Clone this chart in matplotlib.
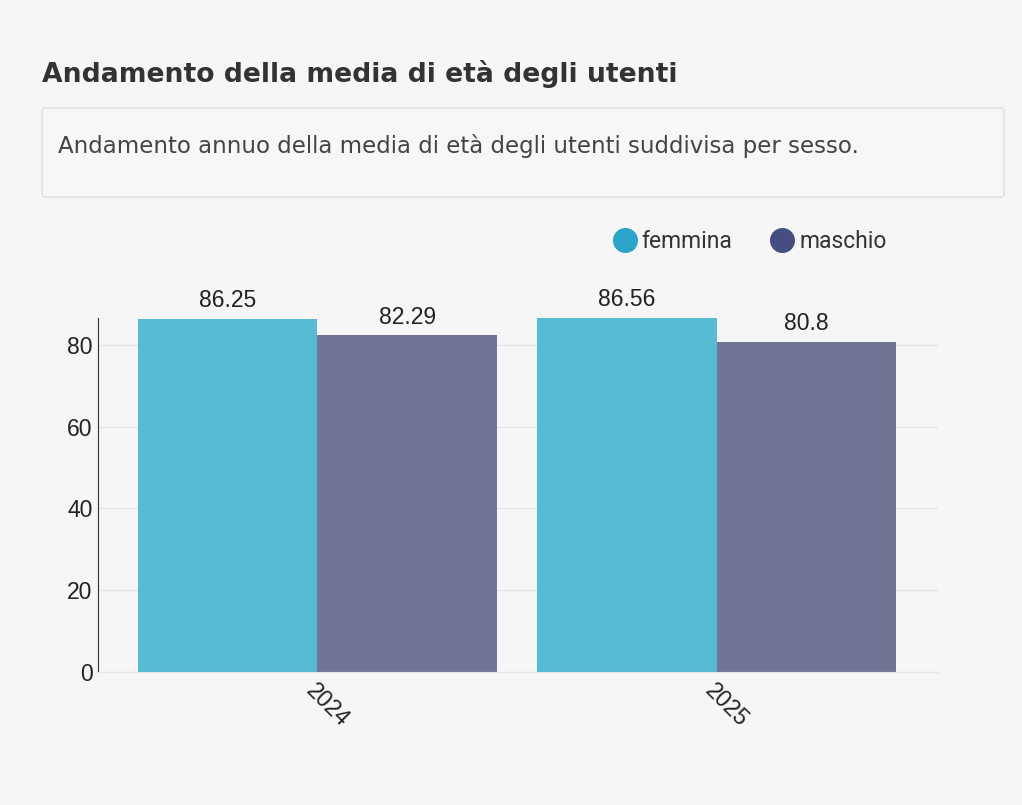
import numpy as np
import matplotlib.pyplot as plt
from matplotlib.patches import FancyBboxPatch

# dati
anni = ["2024", "2025"]
femmina = [86.25, 86.56]
maschio = [82.29, 80.8]
serie = ["femmina", "maschio"]

plt.rcParams['font.family'] = ['Liberation Sans', 'DejaVu Sans']

W, H = 1022, 805
fig = plt.figure(figsize=(W / 100, H / 100), dpi=100)
fig.patch.set_facecolor('#f6f6f6')


def adatta(txt, larghezza):
    """scala la dimensione del font per avere la larghezza voluta (px)"""
    r = fig.canvas.get_renderer()
    bb = txt.get_window_extent(r)
    txt.set_fontsize(txt.get_fontsize() * larghezza / bb.width)


# titolo e riquadro descrizione
tit = fig.text(42 / W, 1 - 82 / H, "Andamento della media di età degli utenti",
               fontsize=16, fontweight='bold', color='#333333', va='baseline',
               family=['DejaVu Sans'])
box = FancyBboxPatch((42 / W, 1 - 197 / H), 962 / W, 89 / H,
                     boxstyle="round,pad=0,rounding_size=0.004",
                     transform=fig.transFigure, facecolor='#f7f7f7',
                     edgecolor='#e2e2e2', linewidth=1.2)
fig.add_artist(box)
sub = fig.text(58 / W, 1 - 153 / H,
               "Andamento annuo della media di età degli utenti suddivisa per sesso.",
               fontsize=13, color='#444444', va='baseline', family=['DejaVu Sans'])
adatta(tit, 636)
adatta(sub, 800)

ax = fig.add_axes([98 / W, 1 - 672 / H, 840 / W, (672 - 318) / H])
ax.set_facecolor('#f6f6f6')

x = np.arange(len(anni))
w = 0.45
b1 = ax.bar(x - w / 2, femmina, w, color='#55bcd4', label=serie[0], zorder=2)
b2 = ax.bar(x + w / 2, maschio, w, color='#717595', label=serie[1], zorder=2)
for bars in (b1, b2):
    ax.bar_label(bars, labels=[f"{v:g}" for v in bars.datavalues],
                 padding=5, fontsize=16.5, color='#222222')

ax.set_xlim(-0.55, 1.555)
ax.set_ylim(0, max(femmina))
ax.set_yticks([0, 20, 40, 60, 80])
ax.yaxis.grid(True, color='#e6e6e6', linewidth=1, zorder=0)
ax.set_axisbelow(True)
for s in ['top', 'right']:
    ax.spines[s].set_visible(False)
ax.spines['left'].set_color('#333333')
ax.spines['bottom'].set_color('#e6e6e6')
ax.tick_params(axis='y', length=0, labelsize=16.5, colors='#222222', pad=4)
ax.tick_params(axis='x', length=0, labelsize=16.5, colors='#222222', pad=5)
ax.set_xticks(x)
ax.set_xticklabels(anni, rotation=-45, ha='left', va='top',
                   rotation_mode='anchor')

# legenda
leg_cols = ['#2aa4c8', '#464d80']
handles = [plt.Line2D([], [], marker='o', linestyle='', markersize=17,
                      markerfacecolor=c, markeredgecolor=c) for c in leg_cols]
fig.legend(handles, serie, loc='center', bbox_to_anchor=(750 / W, 1 - 242 / H),
           ncol=2, frameon=False, handletextpad=0.24, handlelength=1.0,
           columnspacing=1.68, labelcolor='#333333',
           prop={'family': ['Roboto', 'DejaVu Sans'], 'size': 16.5})

fig.savefig("out.png", dpi=100, facecolor=fig.get_facecolor())
